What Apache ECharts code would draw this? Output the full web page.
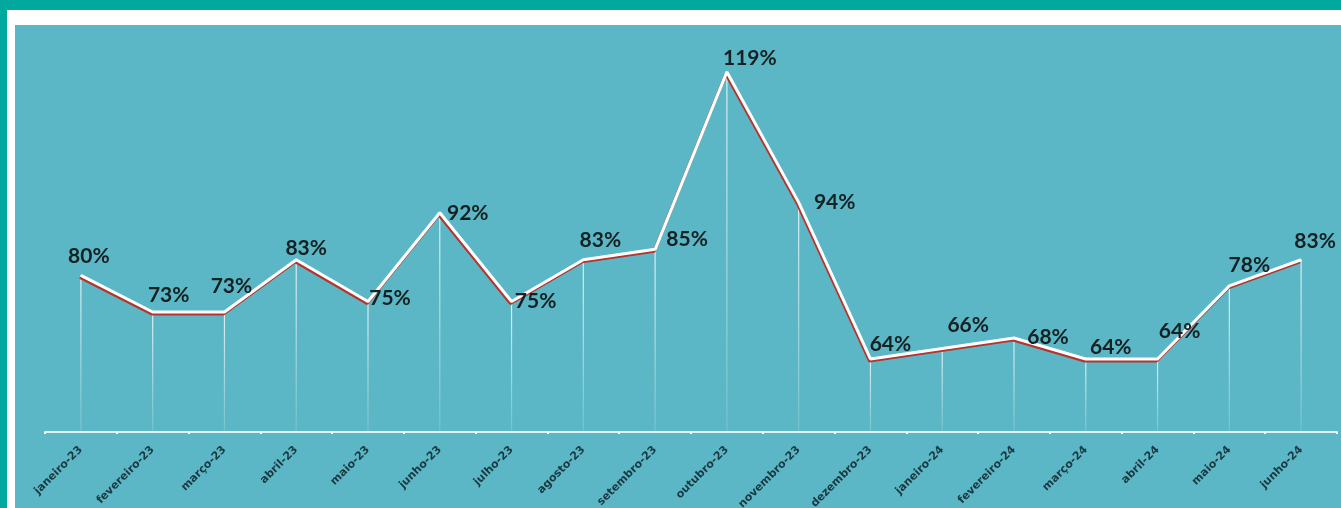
<!DOCTYPE html>
<html><head><meta charset="utf-8">
<script src="https://cdn.jsdelivr.net/npm/echarts@6/dist/echarts.min.js"></script>
<style>
html,body{margin:0;padding:0;background:#fff;}
#chart{position:absolute;left:0;top:0;width:1341px;height:508px;}
.b{position:absolute;pointer-events:none;}
</style></head>
<body>
<div id="chart"></div>
<div class="b" style="left:0;top:0;width:1341px;height:10px;background:#00A89D"></div>
<div class="b" style="left:0;top:0;width:7px;height:508px;background:#00A89D"></div>
<div class="b" style="left:7px;top:10px;width:1334px;height:15px;background:#fff"></div>
<div class="b" style="left:7px;top:10px;width:8px;height:498px;background:#fff"></div>
<script>
const categories = ["janeiro-23","fevereiro-23","março-23","abril-23","maio-23","junho-23","julho-23","agosto-23","setembro-23","outubro-23","novembro-23","dezembro-23","janeiro-24","fevereiro-24","março-24","abril-24","maio-24","junho-24"];
const values = [80,73,73,83,75,92,75,83,85,119,94,64,66,68,64,64,78,83];
const labelOffsets = [[8,-19],[16,-17],[7,-26],[10,-12],[22,-3],[28,0],[24,0],[17,-20],[32,-10],[23,-14],[36,0],[20,-15],[26,-23],[34,-1],[25,-12],[22,-28],[20,-21],[14,-19]];

const chart = echarts.init(document.getElementById('chart'), null, {renderer:'canvas'});
const lineData = values.map((v,i)=>({
  value:v,
  label:{offset:labelOffsets[i]}
}));
chart.setOption({
  backgroundColor:'#5BB7C5',
  animation:false,
  grid:{left:45,right:4,top:40.6,bottom:76,containLabel:false,outerBoundsMode:'none'},
  xAxis:{
    type:'category',data:categories,boundaryGap:true,
    axisLine:{lineStyle:{color:'#dff3f6',width:2}},
    axisTick:{show:true,length:2,lineStyle:{color:'#ffffff',width:2}},
    axisLabel:{rotate:45,fontSize:11,fontWeight:'bold',color:'#1b3840',fontFamily:'DejaVu Sans',margin:16,interval:0}
  },
  yAxis:{type:'value',min:50,max:125,show:false,splitLine:{show:false}},
  series:[
    {
      type:'bar',data:values,barWidth:1.2,silent:true,
      itemStyle:{color:new echarts.graphic.LinearGradient(0,0,0,1,[{offset:0,color:'rgba(255,255,255,0.8)'},{offset:1,color:'rgba(255,255,255,0.15)'}])}
    },
    {
      type:'line',data:lineData,symbol:'circle',symbolSize:1,showSymbol:true,
      itemStyle:{color:'#ffffff'},
      lineStyle:{color:'#ffffff',width:3,shadowColor:'#b5342b',shadowBlur:0,shadowOffsetX:-1,shadowOffsetY:2},
      label:{show:true,position:'inside',formatter:p=>p.value+'%',fontFamily:'Lato',fontWeight:'bold',fontSize:21,color:'#142022'},
      z:5
    }
  ]
});
</script>
</body></html>
